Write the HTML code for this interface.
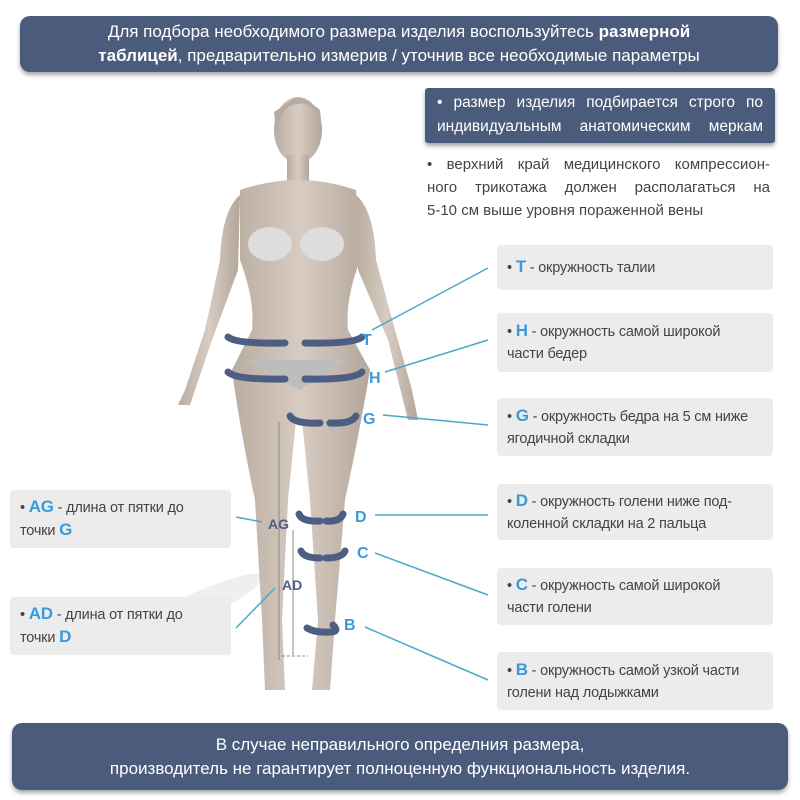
<!DOCTYPE html>
<html><head><meta charset="utf-8"><style>
body{margin:0;width:800px;height:800px;background:#fff;position:relative;overflow:hidden;font-family:"Liberation Sans","Noto Sans CJK SC",sans-serif;}
.bn{position:absolute;background:#4b5b7b;color:#fff;border-radius:10px;text-align:center;box-shadow:0 3px 4px rgba(0,0,0,.35);}
.g{position:absolute;background:#ececec;border-radius:4px;color:#444;font-size:14.5px;letter-spacing:-0.2px;line-height:22px;padding:0 10px;box-sizing:border-box;display:flex;flex-direction:column;justify-content:center;}
.g b{color:#3a9ad9;font-size:17px}
.j div{text-align:justify;text-align-last:justify}
svg{position:absolute;left:0;top:0}
</style></head><body>
<div class="bn" style="left:20px;top:16px;width:758px;height:56px;font-size:17px;line-height:24px;padding-top:4px;box-sizing:border-box">Для подбора необходимого размера изделия воспользуйтесь <b>размерной<br>таблицей</b>, предварительно измерив / уточнив все необходимые параметры</div>
<div class="bn j" style="left:425px;top:88px;width:350px;height:55px;border-radius:3px;font-size:15.5px;line-height:24px;padding:3px 12px 0;box-sizing:border-box"><div>• размер изделия подбирается строго по</div><div>индивидуальным анатомическим меркам</div></div>
<div class="j" style="position:absolute;left:427px;top:153px;width:343px;font-size:15px;line-height:23px;color:#444"><div>• верхний край медицинского компрессион-</div><div>ного трикотажа должен располагаться на</div><div style="text-align-last:left">5-10 см выше уровня пораженной вены</div></div>
<svg width="800" height="800">
<defs><linearGradient id="sk" x1="0" x2="1"><stop offset="0" stop-color="#b9aca1"/><stop offset=".5" stop-color="#d8ccc2"/><stop offset="1" stop-color="#b3a69b"/></linearGradient></defs>
<ellipse cx="190" cy="610" rx="80" ry="14" fill="#efefef" transform="rotate(-25 190 610)"/>
<g fill="url(#sk)">
<ellipse cx="298" cy="130" rx="24" ry="33"/>
<rect x="287" y="155" width="22" height="30"/>
<path d="M240 190 Q298 170 356 190 L360 260 Q345 300 348 330 L370 370 Q360 430 345 500 L335 620 L330 690 L312 690 L318 620 L310 500 L302 420 L296 420 L288 500 L282 620 L285 690 L265 690 L262 620 L255 500 Q240 430 232 370 L252 330 Q255 300 240 260Z"/>
<path d="M240 195 Q222 210 220 260 L205 330 L185 390 L178 405 L190 405 L212 340 L238 270Z"/>
<path d="M356 195 Q374 210 376 260 L395 330 L412 390 L418 420 L408 420 L388 340 L358 270Z"/>
</g>
<path d="M292 100 Q298 92 320 110 L322 130 Q315 100 298 104 Q282 104 276 130 L274 112Z" fill="#b8aaa0"/>
<ellipse cx="270" cy="244" rx="22" ry="17" fill="#ddd"/><ellipse cx="322" cy="244" rx="22" ry="17" fill="#ddd"/>
<path d="M245 360 L348 360 L300 390Z" fill="#bdbdbd"/>
<g stroke="#4c5f82" stroke-width="7" fill="none" stroke-linecap="round">
<path d="M228 337 Q236 344 285 343"/><path d="M362 337 Q354 344 305 343"/>
<path d="M228 372 Q236 380 285 379"/><path d="M362 372 Q354 380 305 379"/>
<path d="M290 416 Q294 424 320 423"/><path d="M356 416 Q352 424 330 423"/>
<path d="M299 514 Q302 522 320 521"/><path d="M343 514 Q340 522 326 521"/>
<path d="M301 551 Q304 558 320 558"/><path d="M345 551 Q342 558 326 558"/>
<path d="M307 628 Q315 633 330 632 Q340 632 333 625"/>
</g>
<g stroke="#4aa8c8" stroke-width="1.5">
<line x1="372" y1="330" x2="488" y2="268"/><line x1="385" y1="372" x2="488" y2="340"/>
<line x1="383" y1="415" x2="488" y2="425"/><line x1="375" y1="515" x2="488" y2="515"/>
<line x1="375" y1="553" x2="488" y2="595"/><line x1="365" y1="627" x2="488" y2="680"/>
<line x1="236" y1="517" x2="262" y2="522"/><line x1="236" y1="628" x2="275" y2="588"/>
</g>
<g stroke="#888" stroke-width="1"><line x1="279" y1="422" x2="279" y2="660"/><line x1="293" y1="530" x2="293" y2="655"/><line x1="282" y1="656" x2="308" y2="656" stroke-dasharray="3 2"/></g>
<g font-family="Liberation Sans,sans-serif" font-weight="bold" font-size="16" fill="#3a9ad9">
<text x="362" y="345">T</text><text x="369" y="383">H</text><text x="363" y="424">G</text><text x="355" y="522">D</text><text x="357" y="558">C</text><text x="344" y="630">B</text></g>
<g font-family="Liberation Sans,sans-serif" font-weight="bold" font-size="14" fill="#4c5f82"><text x="268" y="529">AG</text><text x="282" y="590">AD</text></g>
</svg>
<div class="g" style="left:497px;top:245px;width:276px;height:45px"><span>• <b>T</b> - окружность талии</span></div>
<div class="g" style="left:497px;top:313px;width:276px;height:59px"><span>• <b>H</b> - окружность самой широкой<br>части бедер</span></div>
<div class="g" style="left:497px;top:398px;width:276px;height:58px"><span>• <b>G</b> - окружность бедра на 5 см ниже<br>ягодичной складки</span></div>
<div class="g" style="left:497px;top:484px;width:276px;height:56px"><span>• <b>D</b> - окружность голени ниже под-<br>коленной складки на 2 пальца</span></div>
<div class="g" style="left:497px;top:568px;width:276px;height:57px"><span>• <b>C</b> - окружность самой широкой<br>части голени</span></div>
<div class="g" style="left:497px;top:652px;width:276px;height:58px"><span>• <b>B</b> - окружность самой узкой части<br>голени над лодыжками</span></div>
<div class="g" style="left:10px;top:490px;width:221px;height:58px"><span>• <b>AG</b> - длина от пятки до<br>точки <b>G</b></span></div>
<div class="g" style="left:10px;top:597px;width:221px;height:58px"><span>• <b>AD</b> - длина от пятки до<br>точки <b>D</b></span></div>
<div class="bn" style="left:12px;top:723px;width:776px;height:67px;font-size:17px;line-height:24px;padding-top:10px;box-sizing:border-box">В случае неправильного определния размера,<br>производитель не гарантирует полноценную функциональность изделия.</div>
</body></html>
